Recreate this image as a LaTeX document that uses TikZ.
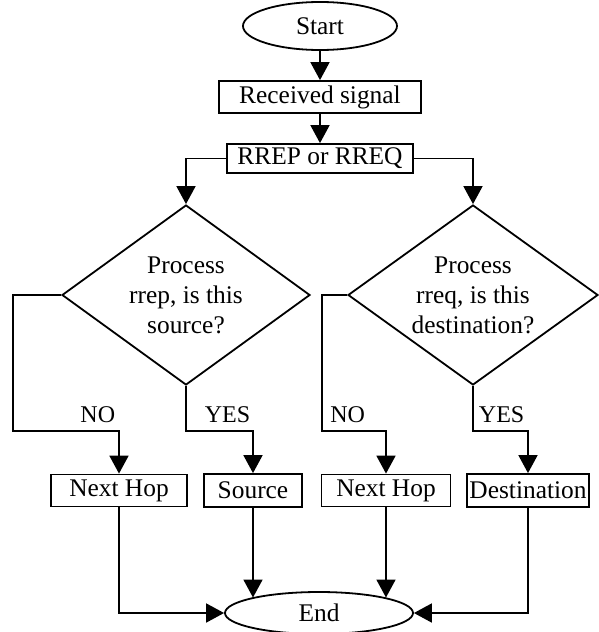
\documentclass[tikz,border=0pt]{standalone}
\usepackage{fontspec}
\setmainfont{Liberation Serif}
\usepackage{tikz}
\usetikzlibrary{shapes.geometric, arrows.meta, positioning, calc}
\tikzstyle{terminal} = [ellipse, draw=black, line width=1.8pt, inner sep=0pt, text centered]
\tikzstyle{process} = [rectangle, draw=black, line width=1.8pt, minimum height=32pt, inner xsep=2pt, inner ysep=0pt, text centered]
\tikzstyle{decision} = [diamond, draw=black, line width=1.8pt, aspect=1.37, inner sep=0pt, minimum width=248pt, minimum height=180pt, align=center]
\tikzstyle{arrow} = [line width=1.8pt, -{Triangle[length=18pt, width=19pt]}]
\tikzstyle{answer} = [font=\fontsize{24}{28}\selectfont, above=4pt]

\begin{document}
\begin{tikzpicture}[node distance=60pt, font=\fontsize{25.4}{30}\selectfont]
\useasboundingbox (-320pt,26pt) rectangle (278pt,-606pt);

% Main flow
\node (start) [terminal, minimum width=154pt, minimum height=48pt] {Start};
\node (recv) [process, node distance=71pt, below of=start, minimum width=202pt] {Received signal};
\node (rrep) [process, node distance=61.5pt, below of=recv, minimum width=186pt, minimum height=29pt] {RREP or RREQ};

% Decisions
\node (dleft) [decision, node distance=136.5pt, below of=rrep, xshift=-134pt] {Process\\rrep, is this\\source?};
\node (dright) [decision, node distance=287pt, right of=dleft, minimum width=250pt] {Process\\rreq, is this\\destination?};

% Outcomes
\node (hopl) [process, node distance=195.5pt, below of=dleft, xshift=-67pt, minimum width=136pt] {Next Hop};
\node (src) [process, node distance=195.5pt, below of=dleft, xshift=67pt, minimum width=98pt, minimum height=33pt] {Source};
\node (hopr) [process, node distance=195.5pt, below of=dright, xshift=-87pt, minimum width=129pt] {Next Hop};
\node (dest) [process, node distance=195.5pt, below of=dright, xshift=55pt, minimum width=122pt, minimum height=33pt] {Destination};
\node (end) [terminal, node distance=454.5pt, below of=rrep, xshift=-1pt, minimum width=188pt, minimum height=42pt] {End};

% Arrows
\draw [arrow] (start) -- (recv);
\draw [arrow] (recv) -- (rrep);
\draw [arrow] (rrep) -| (dleft);
\draw [arrow] (rrep) -| (dright);
\draw [arrow] (dleft.west) -| ++(-48pt,-136pt) -| node[answer, pos=0.4] {NO} (hopl);
\draw [arrow] (dleft.south) -- ++(0,-45pt) -| node[answer, pos=0.31] {YES} (src);
\draw [arrow] (dright.west) -| ++(-25pt,-136pt) -| node[answer, pos=0.2] {NO} (hopr);
\draw [arrow] (dright.south) -- ++(0,-45pt) -| node[answer, pos=0.26] {YES} (dest);
\draw [arrow] (hopl) |- (end);
\draw [arrow] (src) -- (src |- end.167);
\draw [arrow] (hopr) -- (hopr |- end.13);
\draw [arrow] (dest) |- (end);

\end{tikzpicture}
\end{document}
